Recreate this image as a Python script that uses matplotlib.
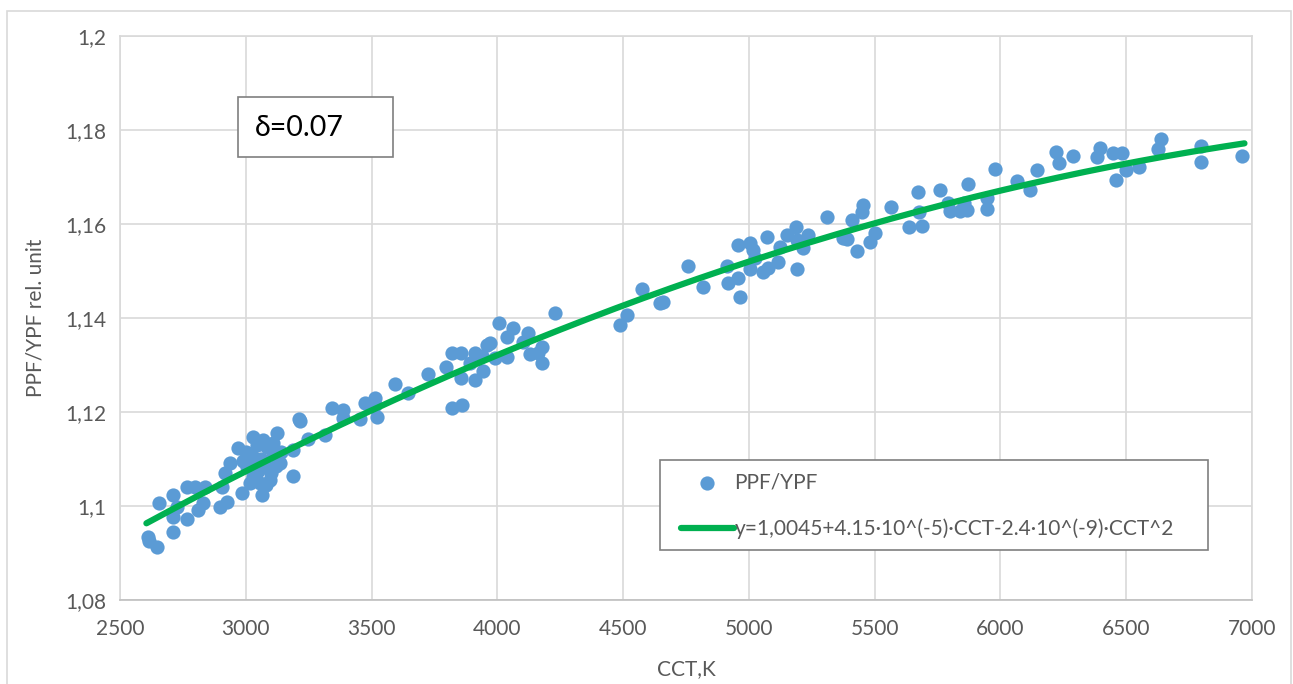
import matplotlib.pyplot as plt
from matplotlib.patches import Rectangle
import numpy as np

# PPF/YPF vs CCT
cct = [2612, 2616, 2647, 2655, 2712, 2712, 2728, 2712, 2767, 2767, 2799, 2838,
       2811, 2831, 2898, 2925, 2906, 2918, 2937, 2969, 2985, 3005, 3028, 3028,
       3028, 3064, 3084, 3084, 3096, 3108, 3123, 3135, 3187, 3187, 3210, 3246,
       3000, 3045, 3060, 3070, 3050, 3110, 3140, 3015, 3080, 3100, 2990, 3055,
       3120, 3214, 3313, 3341, 3386, 3386, 3453, 3473, 3512, 3512, 3520, 3592,
       3644, 3723, 3795, 3819, 3855, 3819, 3859, 3855, 3890, 3910, 3910, 3942,
       3958, 3970, 3938, 3990, 4038, 4006, 4062, 4038, 4122, 4102, 4130, 4177,
       4177, 4161, 4229, 4486, 4515, 4574, 4646, 4658, 4758, 4818, 4913, 4917,
       4956, 4956, 4964, 5005, 5016, 5024, 5005, 5056, 5076, 5072, 5115, 5123,
       5151, 5187, 5191, 5214, 5191, 5234, 5310, 5374, 5409, 5389, 5429, 5453,
       5449, 5481, 5500, 5565, 5636, 5687, 5672, 5676, 5759, 5790, 5798, 5838,
       5854, 5866, 5870, 5945, 5945, 5977, 6065, 6117, 6145, 6220, 6232, 6288,
       6383, 6395, 6446, 6482, 6458, 6498, 6549, 6628, 6640, 6798, 6798, 6962]
ratio = [1.0935, 1.0926, 1.0913, 1.1006, 1.1023, 1.0977, 1.0998, 1.0945, 1.0972, 1.1040, 1.1040, 1.1040,
         1.0992, 1.1006, 1.0998, 1.1009, 1.1040, 1.1070, 1.1092, 1.1124, 1.1028, 1.1083, 1.1104, 1.1147,
         1.1062, 1.1023, 1.1126, 1.1083, 1.1055, 1.1113, 1.1155, 1.1092, 1.1119, 1.1064, 1.1185, 1.1143,
         1.1115, 1.1130, 1.1100, 1.1140, 1.1075, 1.1135, 1.1115, 1.1050, 1.1045, 1.1070, 1.1095, 1.1050,
         1.1085, 1.1180, 1.1151, 1.1209, 1.1204, 1.1187, 1.1185, 1.1219, 1.1230, 1.1215, 1.1189, 1.1260,
         1.1240, 1.1281, 1.1296, 1.1326, 1.1326, 1.1209, 1.1215, 1.1272, 1.1304, 1.1326, 1.1268, 1.1287,
         1.1343, 1.1347, 1.1319, 1.1315, 1.1317, 1.1389, 1.1379, 1.1360, 1.1368, 1.1349, 1.1323, 1.1338,
         1.1304, 1.1326, 1.1411, 1.1385, 1.1406, 1.1462, 1.1432, 1.1434, 1.1511, 1.1466, 1.1511, 1.1475,
         1.1555, 1.1485, 1.1445, 1.1560, 1.1545, 1.1528, 1.1504, 1.1498, 1.1507, 1.1572, 1.1519, 1.1551,
         1.1577, 1.1594, 1.1566, 1.1549, 1.1504, 1.1577, 1.1615, 1.1570, 1.1609, 1.1568, 1.1543, 1.1641,
         1.1626, 1.1562, 1.1581, 1.1636, 1.1594, 1.1596, 1.1668, 1.1626, 1.1672, 1.1645, 1.1628, 1.1628,
         1.1645, 1.1630, 1.1685, 1.1655, 1.1632, 1.1717, 1.1692, 1.1672, 1.1715, 1.1753, 1.1730, 1.1745,
         1.1743, 1.1762, 1.1751, 1.1751, 1.1694, 1.1715, 1.1721, 1.1760, 1.1781, 1.1766, 1.1732, 1.1745]

# trendline coefficients from the legend: y = a + b*CCT + c*CCT^2
fit_coef = [1.0045, 4.15e-5, -2.4e-9]
fit_range = [2605, 6970]

x_ticks = [2500, 3000, 3500, 4000, 4500, 5000, 5500, 6000, 6500, 7000]
y_ticks = [1.08, 1.10, 1.12, 1.14, 1.16, 1.18, 1.20]
y_tick_labels = ["1,08", "1,1", "1,12", "1,14", "1,16", "1,18", "1,2"]

plt.rcParams['font.family'] = ['Lato', 'DejaVu Sans']
txt = '#595959'
grid = '#D9D9D9'

W, H = 1293, 684
fig = plt.figure(figsize=(W / 100, H / 100), dpi=100)

# outer chart border
fig.patches.append(Rectangle((7 / W, -0.01), (1291 - 7) / W, 1 - 11 / H + 0.01,
                             transform=fig.transFigure, fill=False,
                             edgecolor=grid, linewidth=1.2))

ax = fig.add_axes([120 / W, 1 - 600 / H, (1252 - 120) / W, (600 - 36) / H])

xf = np.linspace(fit_range[0], fit_range[1], 200)
yf = fit_coef[0] + fit_coef[1] * xf + fit_coef[2] * xf ** 2

ax.scatter(cct, ratio, s=105, color='#5B9BD5', zorder=3, label='PPF/YPF', linewidths=0)
ax.plot(xf, yf, color='#00B050', linewidth=4.5, zorder=4,
        solid_capstyle='round',
        label='y=1,0045+4.15·10^(-5)·CCT-2.4·10^(-9)·CCT^2')

ax.set_xlim(2500, 7000)
ax.set_ylim(1.08, 1.20)
ax.set_xticks(x_ticks)
ax.set_yticks(y_ticks)
ax.set_yticklabels(y_tick_labels)
ax.grid(True, color=grid, linewidth=1.2)
ax.set_axisbelow(True)
for s in ax.spines.values():
    s.set_color(grid)
    s.set_linewidth(1.2)
ax.spines['bottom'].set_color('#BFBFBF')
ax.tick_params(length=0, labelsize=15, colors=txt, pad=10)
ax.tick_params(axis='x', pad=14)

ax.set_xlabel('CCT,K', fontsize=15, color=txt, labelpad=14)
ax.set_ylabel('PPF/YPF rel. unit', fontsize=15, color=txt, labelpad=14)

# delta box
ax.add_patch(Rectangle((238 / W, 1 - 157 / H), (393 - 238) / W, 60 / H,
                       transform=fig.transFigure, facecolor='white', clip_on=False,
                       edgecolor='#7F7F7F', linewidth=1.2, zorder=6))
ax.text(255 / W, 1 - 128 / H, 'δ=0.07', fontsize=20.5, color='black',
        transform=fig.transFigure, va='center', ha='left', zorder=7)

# legend: frame drawn separately, entries placed inside it
ax.add_patch(Rectangle((660 / W, 1 - 550 / H), (1208 - 660) / W, 90 / H,
                       transform=fig.transFigure, facecolor='white', clip_on=False,
                       edgecolor='#7F7F7F', linewidth=1.2, zorder=6))
leg = ax.legend(loc='upper left', bbox_to_anchor=(671 / W, 1 - 462 / H),
                bbox_transform=fig.transFigure, fontsize=15, frameon=False,
                handlelength=2.5, handletextpad=0.05, labelspacing=1.25,
                borderpad=0.5, borderaxespad=0, scatterpoints=1)
for t in leg.get_texts():
    t.set_color(txt)
leg.set_zorder(8)

fig.savefig('out.png', dpi=100)
